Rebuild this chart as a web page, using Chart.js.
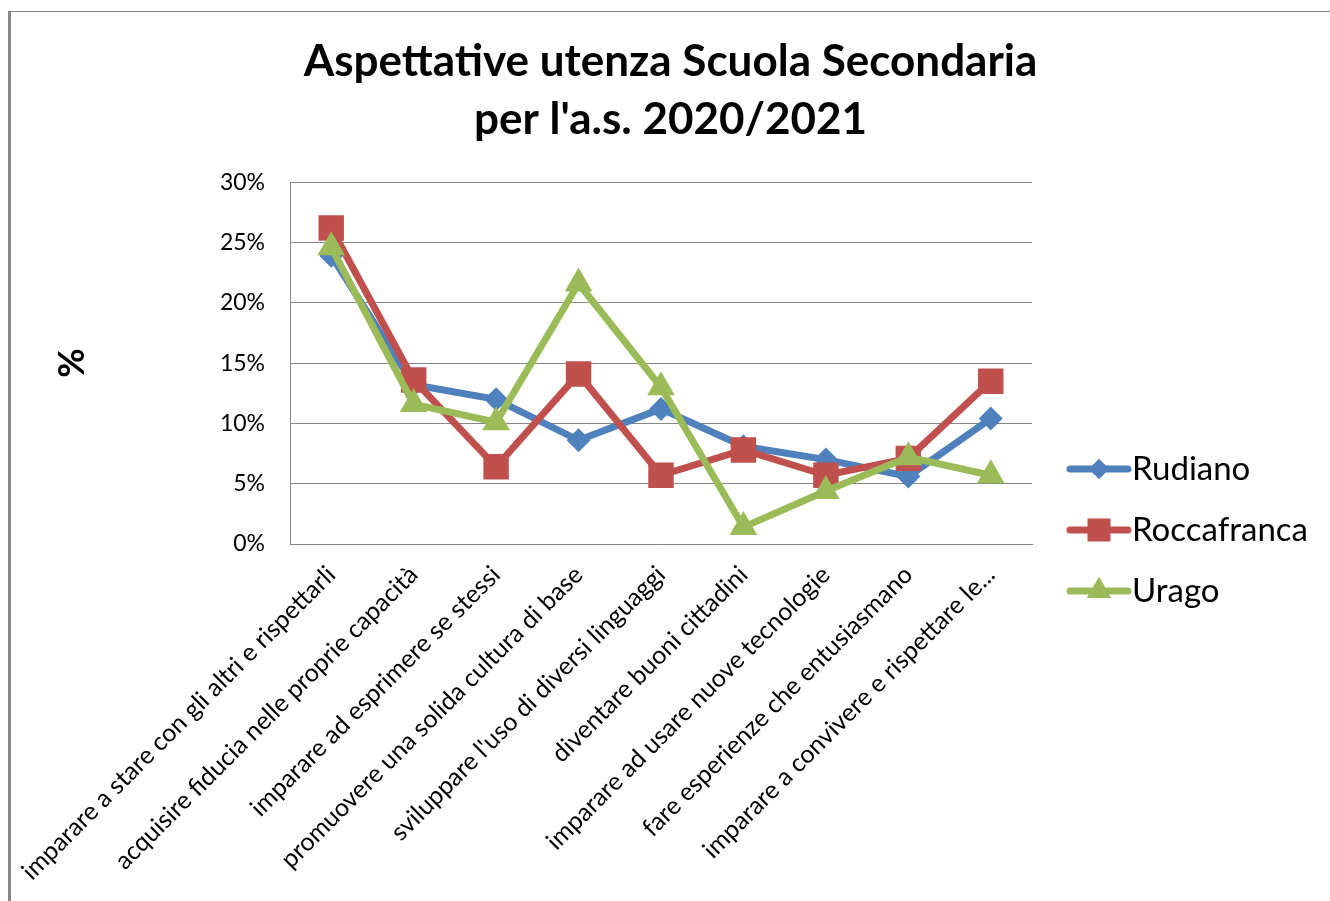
<!DOCTYPE html>
<html>
<head>
<meta charset="utf-8">
<script src="https://cdn.jsdelivr.net/npm/chart.js@4/dist/chart.umd.min.js"></script>
<style>
    html, body { margin: 0; padding: 0; background: #fff; overflow: hidden; }
    #frame {
        position: absolute; left: 8px; top: 11px;
        width: 1319px; height: 890px;
        border-left: 3px solid #868686; border-top: 1px solid #868686;
    }
    #chart { display: block; }
</style>
</head>
<body>
<div id="frame"><canvas id="chart" width="1319" height="889"></canvas></div>
<script>
const categories = [
    "imparare a stare con gli altri e rispettarli",
    "acquisire fiducia nelle proprie capacità",
    "imparare ad esprimere se stessi",
    "promuovere una solida cultura di base",
    "sviluppare l'uso di diversi linguaggi",
    "diventare buoni cittadini",
    "imparare ad usare nuove tecnologie",
    "fare esperienze che entusiasmano",
    "imparare a convivere e rispettare le..."
];
const rudiano = [23.9, 13.2, 12.0, 8.6, 11.2, 8.1, 7.0, 5.6, 10.4];
const roccafranca = [26.2, 13.6, 6.4, 14.1, 5.7, 7.8, 5.7, 7.1, 13.5];
const urago = [24.6, 11.6, 10.1, 21.6, 13.0, 1.4, 4.4, 7.2, 5.7];
const yTicks = [0, 5, 10, 15, 20, 25, 30];

const titleLines = ["Aspettative utenza Scuola Secondaria", "per l'a.s. 2020/2021"];
const gridGray = '#868686';

function markerSet(color, style, radius, legendRadius, order) {
    return {
        borderColor: color,
        backgroundColor: color,
        pointBackgroundColor: color,
        pointBorderColor: color,
        pointBorderWidth: 0,
        pointStyle: style,
        pointRadius: radius,
        pointHoverRadius: radius,
        legendRadius: legendRadius,
        borderWidth: 7,
        tension: 0,
        fill: false,
        order: order
    };
}

function drawMarker(ctx, style, r, x, y) {
    if (Chart.helpers && Chart.helpers.drawPoint) {
        Chart.helpers.drawPoint(ctx, { pointStyle: style, radius: r, rotation: 0, borderWidth: 0 }, x, y);
        ctx.fill();
        return;
    }
    ctx.beginPath();
    if (style === 'rect') {
        const s = r * Math.SQRT1_2;
        ctx.rect(x - s, y - s, 2 * s, 2 * s);
    } else if (style === 'rectRot') {
        ctx.moveTo(x, y - r); ctx.lineTo(x + r, y); ctx.lineTo(x, y + r); ctx.lineTo(x - r, y);
    } else {
        ctx.moveTo(x, y - r);
        ctx.lineTo(x + r * 0.866, y + r / 2);
        ctx.lineTo(x - r * 0.866, y + r / 2);
    }
    ctx.closePath();
    ctx.fill();
}

// legend drawn on the right: line segment + marker, like the spreadsheet one
const sideLegend = {
    id: 'sideLegend',
    afterDraw(chart) {
        const ctx = chart.ctx;
        const x0 = 1059, x1 = 1117, textX = 1121;
        const y0 = 457, step = 61;
        ctx.save();
        chart.data.datasets.forEach((ds, i) => {
            const y = y0 + i * step;
            ctx.strokeStyle = ds.borderColor;
            ctx.fillStyle = ds.borderColor;
            ctx.lineWidth = 7;
            ctx.lineCap = 'round';
            ctx.beginPath();
            ctx.moveTo(x0, y);
            ctx.lineTo(x1, y);
            ctx.stroke();
            drawMarker(ctx, ds.pointStyle, ds.legendRadius, (x0 + x1) / 2, y);
            ctx.fillStyle = '#000';
            ctx.font = '33px Lato';
            ctx.textAlign = 'left';
            ctx.textBaseline = 'middle';
            ctx.fillText(ds.label, textX, y);
        });
        ctx.restore();
    }
};

document.addEventListener('DOMContentLoaded', () => {
    const ctx = document.getElementById('chart').getContext('2d');

    new Chart(ctx, {
        type: 'line',
        data: {
            labels: categories,
            datasets: [
                Object.assign({ label: 'Rudiano', data: rudiano }, markerSet('#4F81BD', 'rectRot', 12, 10, 3)),
                Object.assign({ label: 'Roccafranca', data: roccafranca }, markerSet('#C0504D', 'rect', 18, 16, 2)),
                Object.assign({ label: 'Urago', data: urago }, markerSet('#9BBB59', 'triangle', 16, 14, 1))
            ]
        },
        options: {
            responsive: false,
            animation: false,
            layout: { padding: 0 },
            plugins: {
                legend: { display: false },
                tooltip: { enabled: false },
                title: {
                    display: true,
                    text: titleLines,
                    color: '#000',
                    font: { family: 'Lato', size: 44, weight: 'bold', lineHeight: 1.32 },
                    padding: { top: 21, bottom: 33 }
                }
            },
            scales: {
                x: {
                    type: 'category',
                    offset: true,
                    grid: { display: false, drawTicks: false },
                    border: { display: true, color: gridGray, width: 1 },
                    ticks: {
                        color: '#000',
                        font: { family: 'Lato', size: 25 },
                        maxRotation: 45,
                        minRotation: 45,
                        autoSkip: false,
                        padding: 16,
                        labelOffset: 0
                    },
                    afterFit: s => {
                        s.height = 357;
                        s.paddingLeft = 0;
                        s.paddingRight = 0;
                    }
                },
                y: {
                    min: 0,
                    max: 30,
                    afterBuildTicks: s => { s.ticks = yTicks.map(v => ({ value: v })); },
                    grid: { color: gridGray, lineWidth: 1, drawTicks: false },
                    border: { display: true, color: gridGray, width: 1 },
                    ticks: {
                        color: '#000',
                        font: { family: 'Lato', size: 23 },
                        padding: 25,
                        callback: v => v + '%'
                    },
                    title: {
                        display: true,
                        text: '%',
                        color: '#000',
                        font: { family: 'Lato', size: 36, weight: 'bold', lineHeight: 1.2 },
                        padding: { top: 40, bottom: 0 }
                    },
                    afterFit: s => {
                        s.width = 279;
                        s.paddingTop = 0;
                        s.paddingBottom = 0;
                    }
                },
                // empty axis on the right keeps room for the legend
                side: {
                    type: 'linear',
                    position: 'right',
                    display: true,
                    grid: { display: false, drawTicks: false },
                    border: { display: false },
                    ticks: { display: false },
                    afterFit: s => { s.width = 298; }
                }
            }
        },
        plugins: [sideLegend]
    });
});
</script>
</body>
</html>
